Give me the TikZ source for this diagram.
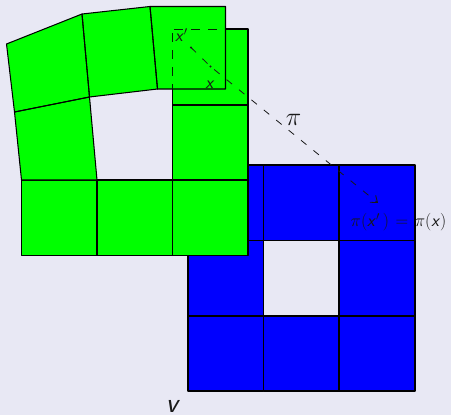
\RequirePackage{fix-cm}
\documentclass[tikz,border=0pt]{standalone}
\usetikzlibrary{arrows.meta}
\definecolor{bgc}{HTML}{E8E8F4}
\definecolor{cellgreen}{RGB}{0,255,0}
\definecolor{cellblue}{RGB}{0,0,255}
\tikzset{
  greenfill/.style={fill=cellgreen},
  bluefill/.style={fill=cellblue},
  cellline/.style={draw=black,line width=1.05pt,line join=round},
  hiddenedge/.style={draw=black!85!green,line width=1pt,dash pattern=on 8.5pt off 8.5pt},
  maplabel/.style={text=black!90,inner sep=0pt},
}
\newcommand{\vx}{\textsf{\textit{x}}}
\newcommand{\labelsize}{\fontsize{17.5}{20}\selectfont}
\begin{document}
\begin{tikzpicture}[x=1pt,y=-1pt]
\path[use as bounding box,fill=bgc] (0,0) rectangle (451,415);
% blue square with hole: fills first, then the grid lines
\foreach \st in {bluefill,cellline}{
  \foreach \xa/\xb in {188/263.5,263.5/339,339/415}{
    \path[\st] (\xa,165) rectangle (\xb,240.5);
    \path[\st] (\xa,316) rectangle (\xb,391);
  }
  \path[\st] (188,240.5) rectangle (263.5,316);
  \path[\st] (339,240.5) rectangle (415,316);
}
% green: straight part
\foreach \st in {greenfill,cellline}{
  \foreach \xa/\xb in {21.5/97,97/172.5,172.5/248}{
    \path[\st] (\xa,180) rectangle (\xb,255.5);
  }
  \path[\st] (172.5,105) rectangle (248,180);
  \path[\st] (172.5,29) rectangle (248,105);
}
% green: bent part
\foreach \st in {greenfill,cellline}{
  \path[\st] (21.5,180) -- (97,180) -- (89.5,97) -- (14.5,112) -- cycle;
  \path[\st] (14.5,112) -- (89.5,97) -- (82,14) -- (6.5,44) -- cycle;
  \path[\st] (82,14) -- (150,6.5) -- (157.5,89) -- (89.5,97) -- cycle;
  \path[\st] (150,6.5) -- (225.5,6.5) -- (225.5,89) -- (157.5,89) -- cycle;
}
% hidden edges
\coordinate (hA) at (225,29);
\coordinate (hB) at (172.5,29);
\coordinate (hC) at (172.5,33);
\coordinate (hD) at (172.5,89);
\draw[hiddenedge,dash phase=8.5pt] (hA) -- (hB);
\draw[hiddenedge] (hC) -- (hD);
% labels
\node[maplabel,font=\labelsize] (xp) at (181.5,35) {\vx$'$};
\node[maplabel,font=\labelsize] (xq) at (210,85) {\vx};
\node[maplabel,font=\fontsize{26}{28}\selectfont] (pi) at (293.5,119.5) {$\pi$};
\node[maplabel,font=\labelsize,anchor=west] (img) at (350.5,222.5) {$\pi($\vx$'$\kern3pt$)$\kern6.5pt$=$\kern6.5pt$\pi($\vx$)$};
\node[maplabel,font=\fontsize{28}{29}\selectfont\sffamily\itshape] (v) at (172,406) {v};
% map arrow
\coordinate (s) at (191,47.5);
\coordinate (m) at (210.5,66.5);
\coordinate (e) at (378,203);
\fill[black!90] (s) circle (1.1pt);
\fill[black!90] (m) circle (1.1pt);
\draw[black!90,line width=0.8pt,dash pattern=on 7pt off 9pt,-{Straight Barb[length=6pt,width=9pt]}] (s) -- (m) -- (e);
\end{tikzpicture}
\end{document}
